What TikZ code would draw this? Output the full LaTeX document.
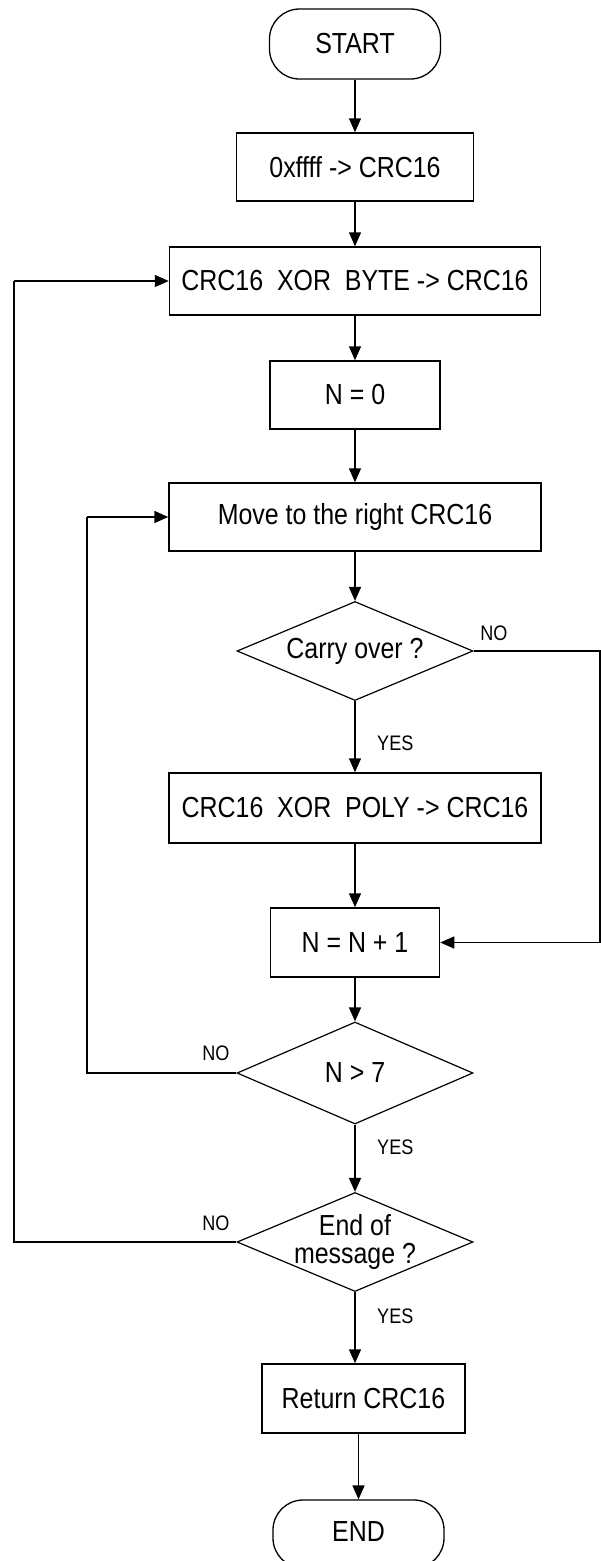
\documentclass[tikz,border=0pt]{standalone}
\usepackage{fontspec}
\setmainfont{Liberation Sans}[FakeStretch=0.86]
\usetikzlibrary{shapes.geometric,arrows.meta}
\begin{document}
\begin{tikzpicture}[x=1pt,y=-1pt,
  every node/.style={font=\fontsize{29}{32}\selectfont},
  procbox/.style={draw,line width=1.5pt,rectangle,inner sep=0pt,minimum height=68pt},
  termbox/.style={draw,line width=1.3pt,rectangle,rounded corners=30pt,inner sep=0pt,minimum width=171pt},
  decbox/.style={draw,line width=1.2pt,diamond,inner sep=0pt,minimum width=236pt,minimum height=100pt},
  tag/.style={font=\fontsize{21}{24}\selectfont,inner sep=0pt},
  arr/.style={line width=1.5pt,-{Triangle[length=14pt,width=12pt]}},
  ln/.style={line width=1.5pt}]
\useasboundingbox (0,0) rectangle (600,1561);
\fill[white] (0,0) rectangle (600,1561);

\node[termbox,minimum height=70pt] (start) at (355,44) {START};
\node[procbox,minimum width=237pt] (n1) at (355,167) {0xffff -> CRC16};
\node[procbox,minimum width=371pt] (n2) at (355,281) {CRC16\ \ XOR\ \ BYTE -> CRC16};
\node[procbox,minimum width=170pt] (n3) at (355,395) {N = 0};
\node[procbox,minimum width=372pt] (n4) at (355,517) {Move to the right CRC16};
\node[decbox,minimum height=99pt,label={center:Carry over ?}] (d1) at (355,651) {};
\node[procbox,minimum width=372pt,minimum height=70pt] (n5) at (355,808) {CRC16\ \ XOR\ \ POLY -> CRC16};
\node[procbox,minimum width=169pt,minimum height=69pt] (n6) at (355,942.5) {N = N + 1};
\node[decbox,minimum height=102pt,label={center:N > 7}] (d2) at (355,1073) {};
\node[decbox,minimum height=99pt,label={[align=center,font=\fontsize{29}{28}\selectfont]center:End of\\message ?}] (d3) at (355,1242) {};
\node[procbox,minimum width=203pt,minimum height=69pt] (n7) at (363.5,1398.5) {Return CRC16};
\node[termbox,minimum height=68pt,text depth=4pt] (end) at (358.5,1534) {END};

\coordinate (r1) at (600,651);
\coordinate (r2) at (600,942.5);
\coordinate (l1) at (87,1073);
\coordinate (l2) at (87,517);
\coordinate (o1) at (14,1242);
\coordinate (o2) at (14,281);

\draw[arr] (start) -- (n1);
\draw[arr] (n1) -- (n2);
\draw[arr] (n2) -- (n3);
\draw[arr] (n3) -- (n4);
\draw[arr] (n4) -- (d1);
\draw[arr] (d1) -- (n5);
\draw[arr] (n5) -- (n6);
\draw[arr] (n6) -- (d2);
\draw[arr] (d2) -- (d3);
\draw[arr] (d3.south) -- (d3.south |- n7.north);
\draw[arr] (end.north |- n7.south) -- (end.north);

\draw[ln] (d1.east) -- (r1) -- (r2);
\draw[arr] (r2) -- (n6.east);
\draw[ln] (d2.west) -- (l1) -- (l2);
\draw[arr] (l2) -- (n4.west);
\draw[ln] (d3.west) -- (o1) -- (o2);
\draw[arr] (o2) -- (n2.west);

\node[tag] (no1) at (494,633) {NO};
\node[tag,anchor=west] (yes1) at (377,743) {YES};
\node[tag] (no2) at (216,1053) {NO};
\node[tag,anchor=west] (yes2) at (377,1147) {YES};
\node[tag] (no3) at (216,1223) {NO};
\node[tag,anchor=west] (yes3) at (377,1316) {YES};
\end{tikzpicture}
\end{document}
